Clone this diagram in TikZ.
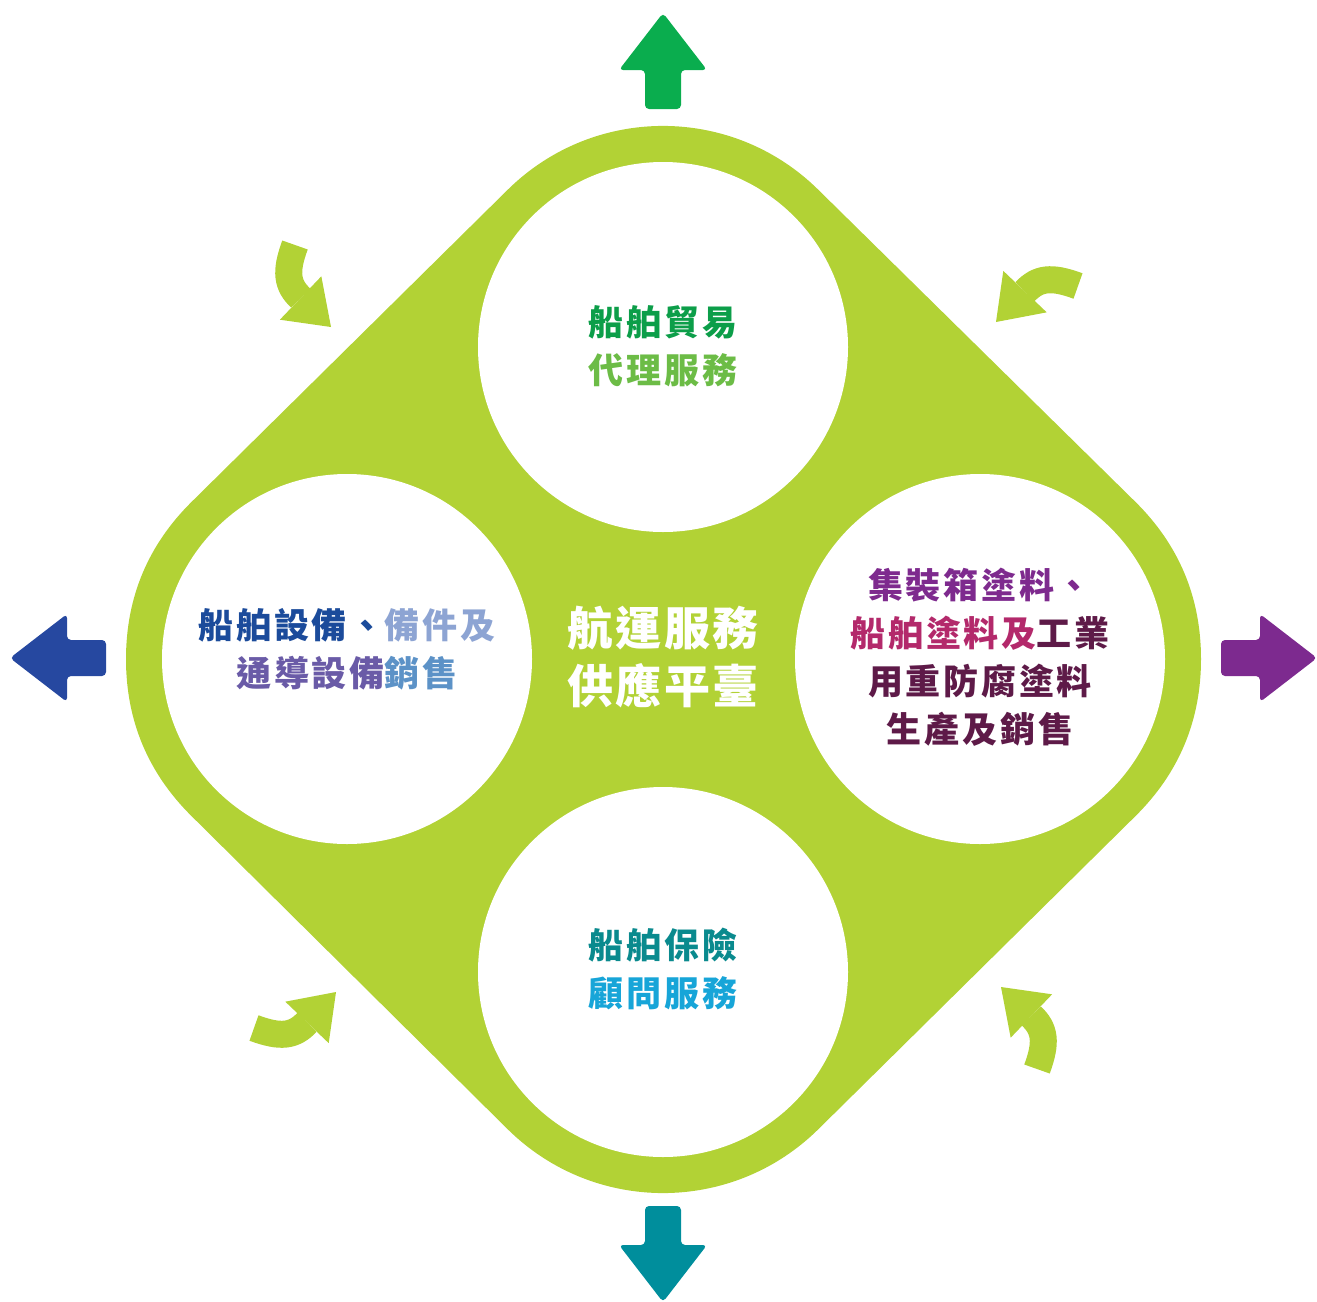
\documentclass[tikz,border=0pt]{standalone}
\usepackage{fontspec}
\newfontfamily\cjk{Noto Sans CJK TC}[LetterSpace=8]
\newfontfamily\cjkhub{Noto Sans CJK TC}[LetterSpace=5]
\usetikzlibrary{arrows.meta}

\definecolor{hubgreen}{HTML}{B2D235}
\definecolor{upgreen}{HTML}{0AAD4E}
\definecolor{leftblue}{HTML}{2648A0}
\definecolor{rightpurple}{HTML}{7D2A8F}
\definecolor{downteal}{HTML}{008E9C}
\definecolor{tradeA}{HTML}{0C9E49}
\definecolor{tradeB}{HTML}{6CBC46}
\definecolor{equipA}{HTML}{1B4B9B}
\definecolor{equipB}{HTML}{8DA4D3}
\definecolor{equipC}{HTML}{6A5BA7}
\definecolor{equipD}{HTML}{5C92C7}
\definecolor{paintA}{HTML}{7E2A8E}
\definecolor{paintB}{HTML}{B3296B}
\definecolor{paintC}{HTML}{5E1A48}
\definecolor{insA}{HTML}{0A8A8E}
\definecolor{insB}{HTML}{17A5D8}

\tikzset{
  disc/.style={circle, fill=white, minimum size=370pt, inner sep=0pt},
  tag/.style={align=center, inner sep=0pt, font=\cjk\bfseries\fontsize{35pt}{48pt}\selectfont},
  hubtag/.style={align=center, inner sep=0pt, text=white, font=\cjkhub\bfseries\fontsize{46pt}{58pt}\selectfont},
  turn arrow/.style={draw=hubgreen, line width=27pt,
    -{Triangle[length=42pt, width=60pt, line width=0pt]}},
}

\begin{document}
\begin{tikzpicture}[x=1pt, y=-1pt]
\useasboundingbox (0,0) rectangle (1317,1301);

% centres of the four discs
\coordinate (T) at (663,347);
\coordinate (R) at (980,659);
\coordinate (B) at (663,972);
\coordinate (L) at (347,659);

% rounded diamond = square through the centres, fat round-joined outline
\filldraw[hubgreen, line width=442pt, line join=round] (T) -- (R) -- (B) -- (L) -- cycle;

% outward arrows
\foreach \a/\x/\y/\c in {90/663/109/upgreen, 180/106/658/leftblue, 0/1221/658/rightpurple, -90/663/1206/downteal}
  \fill[\c, rounded corners=4pt, shift={(\x,\y)}, rotate=\a]
    (0,-18) -- (39,-18) -- (39,-44) -- (96,0) -- (39,44) -- (39,18) -- (0,18) -- cycle;

% inward turning arrows
\foreach \a in {0,-90,-180,-270}
  \draw[turn arrow, shift={(666,657)}, rotate=\a]
    (-371,-412) .. controls (-381,-385) and (-379,-372) .. (-335,-330);

\node[disc] (trade) at (T) {};
\node[disc] (paint) at (R) {};
\node[disc] (ins) at (B) {};
\node[disc] (equip) at (L) {};

\node[tag] (tradetxt) at (663,346) {\textcolor{tradeA}{船舶貿易}\\\textcolor{tradeB}{代理服務}};
\node[tag] (equiptxt) at (347,649) {\textcolor{equipA}{船舶設備、}\textcolor{equipB}{備件及}\\\textcolor{equipC}{通導設備}\textcolor{equipD}{銷售}};
\node[tag] (painttxt) at (980,657) {\textcolor{paintA}{集裝箱塗料、}\\\textcolor{paintB}{船舶塗料及}\textcolor{paintC}{工業}\\\textcolor{paintC}{用重防腐塗料}\\\textcolor{paintC}{生產及銷售}};
\node[tag] (instxt) at (663,969) {\textcolor{insA}{船舶保險}\\\textcolor{insB}{顧問服務}};

\node[hubtag] (hubtxt) at (663,657) {航運服務\\供應平臺};
\end{tikzpicture}
\end{document}
